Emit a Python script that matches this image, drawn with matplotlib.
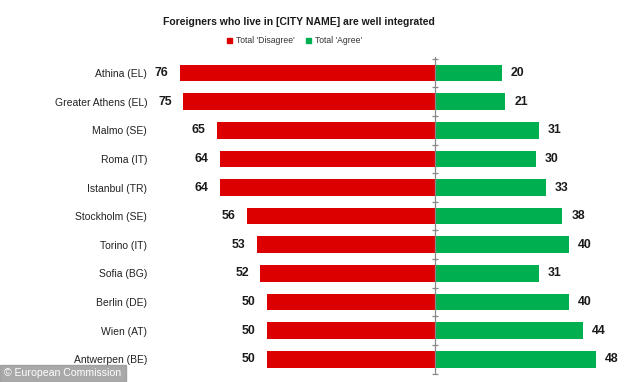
import matplotlib
matplotlib.use("Agg")
import matplotlib.pyplot as plt
import numpy as np

cities = ["Athina (EL)", "Greater Athens (EL)", "Malmo (SE)", "Roma (IT)", "Istanbul (TR)",
          "Stockholm (SE)", "Torino (IT)", "Sofia (BG)", "Berlin (DE)", "Wien (AT)", "Antwerpen (BE)"]
disagree = [76, 75, 65, 64, 64, 56, 53, 52, 50, 50, 50]
agree = [20, 21, 31, 30, 33, 38, 40, 31, 40, 44, 48]

plt.rcParams['font.family'] = ['Liberation Sans', 'DejaVu Sans']

RED = "#DD0000"
GREEN = "#00B050"

fig = plt.figure(figsize=(6.34, 3.82), dpi=100)
W, H = 634, 382
left_px, right_px, top_px, bot_px = 150, 634, 57, 375
ax = fig.add_axes([left_px / W, 1 - bot_px / H, (right_px - left_px) / W, (bot_px - top_px) / H])

y = np.arange(len(cities))
ax.barh(y, [-d for d in disagree], height=0.58, color=RED)
ax.barh(y, agree, height=0.58, color=GREEN)

for yi, d, a in zip(y, disagree, agree):
    ax.text(-d - 3.3, yi, str(d), ha='right', va='center', fontsize=8.8, fontweight='bold', color='#1a1a1a')
    ax.text(a + 2.7, yi, str(a), ha='left', va='center', fontsize=8.8, fontweight='bold', color='#1a1a1a')

ax.set_xlim(-84.8, 59.3)
ax.set_ylim(len(cities) - 0.45, -0.56)

ax.axvline(0, color='#888888', lw=0.9)
bounds = np.arange(-0.5, len(cities) + 0.5, 1.0)
ax.scatter(np.zeros_like(bounds), bounds, marker='_', s=18, color='#888888', lw=0.9, zorder=3)

ax.set_yticks(y)
ax.set_yticklabels(cities, fontsize=7.5, color='#222222')
ax.tick_params(axis='y', length=0, pad=2)
ax.set_xticks([])
for s in ax.spines.values():
    s.set_visible(False)

fig.text(435 / W, 1 - 22 / H, "Foreigners who live in [CITY NAME] are well integrated",
         ha='right', va='center', fontsize=7.45, fontweight='bold', color='#1a1a1a')
# Legend
fig.patches.append(plt.Rectangle((227 / W, 1 - 43 / H), 5 / W, 5 / H, transform=fig.transFigure, color=RED))
fig.text(236 / W, 1 - 40.5 / H, "Total 'Disagree'", ha='left', va='center', fontsize=6.2, color='#333333')
fig.patches.append(plt.Rectangle((306 / W, 1 - 43 / H), 5 / W, 5 / H, transform=fig.transFigure, color=GREEN))
fig.text(315 / W, 1 - 40.5 / H, "Total 'Agree'", ha='left', va='center', fontsize=6.2, color='#333333')

# Watermark
fig.patches.append(plt.Rectangle((0, 0), 126 / W, 17 / H, transform=fig.transFigure, color='#9a9a9a', alpha=0.85))
fig.text(4 / W, 8.5 / H, "© European Commission", ha='left', va='center', fontsize=7.6, color='white')

fig.savefig("out.png", dpi=100)
